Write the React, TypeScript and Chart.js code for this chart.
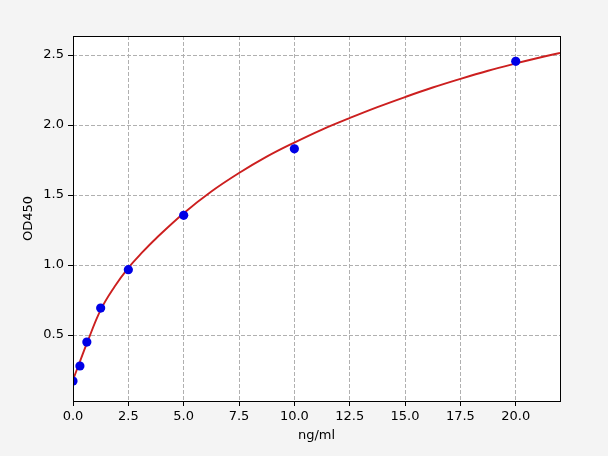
import { useEffect, useRef } from "react"
import { Chart, registerables } from "chart.js"

Chart.register(...registerables)

// measured standards
const concentrations = [0, 0.3125, 0.625, 1.25, 2.5, 5, 10, 20]
const odValues = [0.171, 0.279, 0.45, 0.693, 0.967, 1.355, 1.83, 2.455]

// fitted curve
const curveX = [0, 0.3125, 0.625, 1.25, 1.875, 2.5, 3.125, 3.75, 5, 6.25, 7.5, 8.75, 10, 11.25, 12.5, 13.75, 15, 16.25, 17.5, 18.75, 20, 21, 22]
const curveY = [0.18, 0.31, 0.44, 0.68, 0.845, 0.98, 1.09, 1.19, 1.37, 1.525, 1.657, 1.774, 1.875, 1.968, 2.05, 2.128, 2.2, 2.268, 2.33, 2.388, 2.44, 2.479, 2.515]

const xTicks = [0, 2.5, 5, 7.5, 10, 12.5, 15, 17.5, 20]
const yTicks = [0.5, 1.0, 1.5, 2.0, 2.5]

const FONT = "'DejaVu Sans', sans-serif"

// top and right spines like matplotlib
const frame = {
  id: "frame",
  afterDraw(chart) {
    const { ctx, chartArea } = chart
    ctx.save()
    ctx.strokeStyle = "#000"
    ctx.lineWidth = 1
    ctx.strokeRect(chartArea.left + 0.5, chartArea.top + 0.5, chartArea.right - chartArea.left, chartArea.bottom - chartArea.top)
    ctx.restore()
  },
}

// white plot area
const plotBg = {
  id: "plotBg",
  beforeDraw(chart) {
    const { ctx, chartArea } = chart
    ctx.save()
    ctx.fillStyle = "#fff"
    ctx.fillRect(chartArea.left, chartArea.top, chartArea.right - chartArea.left, chartArea.bottom - chartArea.top)
    ctx.restore()
  },
}

export default function App() {
  const canvasRef = useRef(null)
  const chartRef = useRef(null)

  useEffect(() => {
    document.body.style.margin = "0"
    if (chartRef.current) chartRef.current.destroy()

    chartRef.current = new Chart(canvasRef.current, {
      type: "scatter",
      data: {
        datasets: [
          {
            label: "standards",
            data: concentrations.map((x, i) => ({ x, y: odValues[i] })),
            backgroundColor: "#0000e6",
            borderColor: "#0000e6",
            pointRadius: 4.6,
            borderWidth: 0,
          },
          {
            label: "fit",
            data: curveX.map((x, i) => ({ x, y: curveY[i] })),
            showLine: true,
            borderColor: "#cc1f1f",
            borderWidth: 1.9,
            pointRadius: 0,
            tension: 0.4,
            clip: 0,
          },
        ],
      },
      options: {
        animation: false,
        responsive: false,
        devicePixelRatio: 1,
        layout: { padding: { left: 0, right: 48, top: 36, bottom: 0 } },
        plugins: { legend: { display: false }, tooltip: { enabled: false } },
        scales: {
          x: {
            type: "linear",
            min: 0,
            max: 22,
            afterFit: (scale) => { scale.height = 55 },
            afterBuildTicks: (scale) => { scale.ticks = xTicks.map((value) => ({ value })) },
            ticks: {
              color: "#000",
              padding: 3,
              font: { family: FONT, size: 13 },
              callback: (v) => Number(v).toFixed(1),
            },
            grid: { color: "#b0b0b0", tickColor: "#000", tickLength: 5, lineWidth: 1 },
            border: { display: false, dash: [4, 2] },
            title: { display: true, text: "ng/ml", color: "#000", font: { family: FONT, size: 13 }, padding: { top: 0, bottom: 13 } },
          },
          y: {
            type: "linear",
            min: 0.029,
            max: 2.636,
            afterFit: (scale) => { scale.width = 73 },
            afterBuildTicks: (scale) => { scale.ticks = yTicks.map((value) => ({ value })) },
            ticks: {
              color: "#000",
              padding: 4,
              font: { family: FONT, size: 13 },
              callback: (v) => Number(v).toFixed(1),
            },
            grid: { color: "#b0b0b0", tickColor: "#000", tickLength: 5, lineWidth: 1 },
            border: { display: false, dash: [4, 2] },
            title: { display: true, text: "OD450", color: "#000", font: { family: FONT, size: 13 }, padding: { top: 21, bottom: 0 } },
          },
        },
      },
      plugins: [plotBg, frame],
    })

    return () => {
      if (chartRef.current) {
        chartRef.current.destroy()
        chartRef.current = null
      }
    }
  }, [])

  return (
    <div style={{ width: 608, height: 456, background: "#f4f4f4" }}>
      <canvas ref={canvasRef} width={608} height={456}></canvas>
    </div>
  )
}
